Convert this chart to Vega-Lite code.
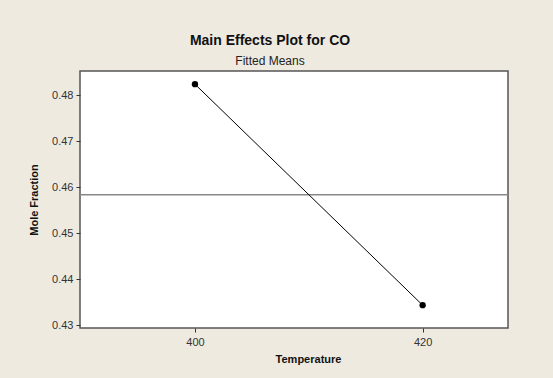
{
  "$schema": "https://vega.github.io/schema/vega-lite/v6.json",
  "autosize": "none",
  "width": 428,
  "height": 257,
  "padding": {"left": 80, "top": 71, "right": 45, "bottom": 50},
  "background": "#EEEAE0",
  "config": {
    "font": "Liberation Sans",
    "view": {"fill": "white", "stroke": "#555", "strokeWidth": 1.5}
  },
  "title": {
    "text": "Main Effects Plot for CO",
    "subtitle": "Fitted Means",
    "fontSize": 14,
    "fontWeight": "bold",
    "color": "#111",
    "subtitleFontSize": 12,
    "subtitleColor": "#222",
    "subtitlePadding": 8,
    "anchor": "middle",
    "dx": -24,
    "offset": 4
  },
  "datasets": {
    "pts": [
      {"Temperature": 400, "Mole Fraction": 0.4824},
      {"Temperature": 420, "Mole Fraction": 0.4344}
    ],
    "ref": [{"mean": 0.4584}]
  },
  "layer": [
    {
      "data": {"name": "ref"},
      "mark": {"type": "rule", "color": "#888", "strokeWidth": 1.5},
      "encoding": {
        "y": {"field": "mean", "type": "quantitative", "scale": {"domain": [0.42944, 0.48527], "nice": false, "zero": false}}
      }
    },
    {
      "data": {"name": "pts"},
      "mark": {"type": "line", "color": "black", "strokeWidth": 1, "point": {"filled": true, "size": 40, "color": "black"}},
      "encoding": {
        "x": {
          "field": "Temperature",
          "type": "quantitative",
          "scale": {"domain": [389.9, 427.5], "nice": false, "zero": false},
          "axis": {
            "values": [400, 420],
            "grid": false,
            "domain": false,
            "tickSize": 4,
            "tickColor": "#333",
            "labelFontSize": 11,
            "labelColor": "#333",
            "labelPadding": 4,
            "title": "Temperature",
            "titleFontSize": 11,
            "titleFontWeight": "bold",
            "titleColor": "#111",
            "titlePadding": 6,
            "titleX": 228
          }
        },
        "y": {
          "field": "Mole Fraction",
          "type": "quantitative",
          "scale": {"domain": [0.42944, 0.48527], "nice": false, "zero": false},
          "axis": {
            "values": [0.43, 0.44, 0.45, 0.46, 0.47, 0.48],
            "format": ".2f",
            "grid": false,
            "domain": false,
            "tickSize": 4,
            "tickColor": "#333",
            "labelFontSize": 11,
            "labelColor": "#333",
            "labelPadding": 3,
            "title": "Mole Fraction",
            "titleFontSize": 11,
            "titleFontWeight": "bold",
            "titleColor": "#111",
            "titlePadding": 12
          }
        }
      }
    }
  ]
}
